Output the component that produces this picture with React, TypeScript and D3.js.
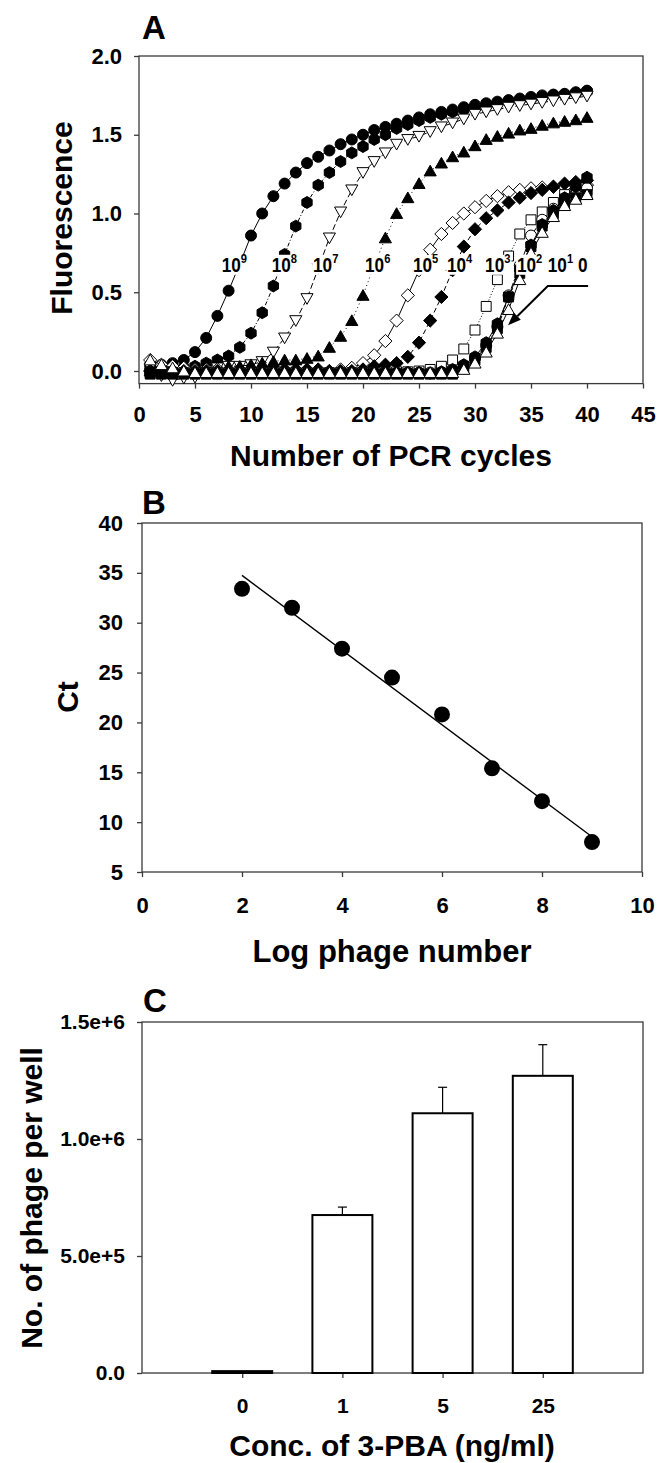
import React, { useEffect, useRef } from 'react';
import * as d3 from 'd3';

// ---- Panel A: real-time PCR curves ----
const cycles = [1, 2, 3, 4, 5, 6, 7, 8, 9, 10, 11, 12, 13, 14, 15, 16, 17, 18, 19, 20,
  21, 22, 23, 24, 25, 26, 27, 28, 29, 30, 31, 32, 33, 34, 35, 36, 37, 38, 39, 40];

const fl1e9 = [0.03, 0.04, 0.05, 0.07, 0.12, 0.21, 0.35, 0.51, 0.68, 0.86, 1.00, 1.11, 1.19, 1.26, 1.32, 1.36, 1.40, 1.44, 1.47, 1.50,
  1.53, 1.55, 1.57, 1.59, 1.61, 1.63, 1.645, 1.66, 1.675, 1.69, 1.70, 1.71, 1.72, 1.73, 1.74, 1.75, 1.755, 1.76, 1.77, 1.78];
const fl1e8 = [0.00, 0.01, 0.01, 0.02, 0.03, 0.05, 0.07, 0.095, 0.15, 0.24, 0.37, 0.54, 0.74, 0.92, 1.07, 1.18, 1.26, 1.33, 1.385, 1.425,
  1.47, 1.50, 1.54, 1.565, 1.59, 1.61, 1.63, 1.645, 1.66, 1.675, 1.69, 1.70, 1.71, 1.72, 1.73, 1.74, 1.75, 1.755, 1.765, 1.775];
const fl1e7 = [0.02, -0.03, -0.06, -0.045, -0.04, 0.00, 0.02, 0.03, 0.03, 0.04, 0.06, 0.12, 0.21, 0.32, 0.46, 0.65, 0.845, 1.01, 1.15, 1.26,
  1.33, 1.385, 1.44, 1.47, 1.49, 1.52, 1.55, 1.575, 1.60, 1.63, 1.645, 1.66, 1.675, 1.685, 1.695, 1.705, 1.715, 1.725, 1.735, 1.745];
const fl1e6 = [0.00, 0.00, 0.00, 0.01, 0.01, 0.02, 0.02, 0.03, 0.03, 0.04, 0.05, 0.06, 0.07, 0.07, 0.08, 0.095, 0.15, 0.22, 0.32, 0.48,
  0.67, 0.845, 1.00, 1.10, 1.19, 1.27, 1.32, 1.36, 1.39, 1.43, 1.47, 1.49, 1.51, 1.53, 1.54, 1.56, 1.575, 1.585, 1.595, 1.61];
const fl1e5 = [0.07, 0.04, 0.03, 0.02, 0.01, 0.01, 0.01, 0.00, 0.00, 0.00, 0.00, 0.00, 0.00, 0.00, 0.00, 0.00, 0.00, 0.01, 0.02, 0.05,
  0.10, 0.19, 0.32, 0.48, 0.64, 0.77, 0.87, 0.94, 1.00, 1.04, 1.08, 1.11, 1.135, 1.15, 1.16, 1.165, 1.17, 1.17, 1.175, 1.18];
const fl1e4 = [0.00, 0.00, 0.00, 0.00, 0.00, 0.00, 0.00, 0.00, 0.01, 0.01, 0.01, 0.01, 0.01, 0.01, 0.01, 0.01, 0.00, 0.00, 0.00, 0.01,
  0.03, 0.04, 0.05, 0.09, 0.18, 0.32, 0.47, 0.64, 0.79, 0.90, 0.97, 1.02, 1.07, 1.10, 1.13, 1.15, 1.17, 1.19, 1.20, 1.21];
const fl1e3 = [-0.01, -0.01, -0.01, -0.01, -0.01, -0.01, -0.01, -0.01, -0.01, -0.01, -0.01, -0.01, -0.01, -0.01, -0.01, -0.01, -0.01, -0.01, -0.01, -0.01,
  -0.01, -0.01, -0.005, -0.005, 0.00, 0.01, 0.03, 0.07, 0.14, 0.26, 0.41, 0.58, 0.73, 0.87, 0.96, 1.01, 1.07, 1.12, 1.14, 1.15];
const fl1e2 = [-0.01, -0.01, -0.01, -0.01, -0.01, -0.01, -0.01, -0.01, -0.01, -0.01, -0.01, -0.01, -0.01, -0.01, -0.01, -0.01, -0.01, -0.01, -0.01, -0.01,
  -0.01, -0.01, -0.01, -0.01, -0.01, -0.01, -0.01, 0.00, 0.03, 0.08, 0.16, 0.28, 0.48, 0.67, 0.86, 0.96, 1.03, 1.08, 1.12, 1.16];
const fl1e1a = [0.00, 0.00, 0.00, -0.01, -0.01, -0.01, -0.01, -0.01, -0.01, -0.01, -0.01, -0.01, -0.01, -0.01, -0.01, -0.01, -0.01, -0.01, -0.01, -0.01,
  -0.01, -0.01, -0.01, -0.01, -0.01, -0.015, -0.005, 0.01, 0.04, 0.09, 0.18, 0.30, 0.47, 0.65, 0.80, 0.93, 1.02, 1.10, 1.17, 1.23];
const fl1e1b = [-0.02, -0.02, -0.02, -0.02, -0.02, -0.02, -0.02, -0.02, -0.02, -0.02, -0.02, -0.02, -0.02, -0.02, -0.02, -0.02, -0.02, -0.02, -0.02, -0.02,
  -0.02, -0.02, -0.02, -0.02, -0.02, -0.02, -0.02, -0.02, 0.02, 0.07, 0.15, 0.27, 0.47, 0.62, 0.79, 0.92, 1.00, 1.06, 1.10, 1.12];
const fl0 = [0.07, 0.04, 0.02, 0.00, -0.01, -0.01, -0.01, -0.01, -0.01, -0.01, -0.01, -0.01, -0.01, -0.01, -0.01, -0.01, -0.01, -0.01, -0.01, -0.01,
  -0.01, -0.01, -0.01, -0.01, -0.01, -0.01, -0.01, -0.01, 0.01, 0.05, 0.12, 0.24, 0.39, 0.58, 0.75, 0.88, 0.98, 1.05, 1.09, 1.12];

const seriesA = [
  { name: '1e9', values: fl1e9, symbol: 'circle', filled: true, dash: null },
  { name: '1e8', values: fl1e8, symbol: 'hexagon', filled: true, dash: '4,2,1,2' },
  { name: '1e7', values: fl1e7, symbol: 'triDown', filled: false, dash: '6,3' },
  { name: '1e6', values: fl1e6, symbol: 'triUp', filled: true, dash: '1,3' },
  { name: '1e5', values: fl1e5, symbol: 'diamond', filled: false, dash: null },
  { name: '1e4', values: fl1e4, symbol: 'diamond', filled: true, dash: '5,3' },
  { name: '1e3', values: fl1e3, symbol: 'square', filled: false, dash: '1,2' },
  { name: '1e2', values: fl1e2, symbol: 'circle', filled: false, dash: '6,2,2,2' },
  { name: '1e1a', values: fl1e1a, symbol: 'hexagon', filled: true, dash: null },
  { name: '1e1b', values: fl1e1b, symbol: 'square', filled: true, dash: '3,3' },
  { name: '0', values: fl0, symbol: 'triUp', filled: false, dash: null },
];

// labels on the curves (left x in cycles, baseline in fluorescence)
const labelsA = [
  { base: '10', sup: '9', x: 7.38 }, { base: '10', sup: '8', x: 11.85 }, { base: '10', sup: '7', x: 15.54 },
  { base: '10', sup: '6', x: 20.18 }, { base: '10', sup: '5', x: 24.46 }, { base: '10', sup: '4', x: 27.5 },
  { base: '10', sup: '3', x: 30.9 }, { base: '10', sup: '2', x: 33.75 }, { base: '10', sup: '1', x: 36.5 },
  { base: '0', sup: '', x: 39.2 },
];
const labelY = 0.63;
const arrowA = [[40.1, 0.54], [36.5, 0.54], [32.95, 0.29]];

// ---- Panel B: standard curve ----
const logPhage = [2, 3, 4, 5, 6, 7, 8, 9];
const ctValues = [33.4, 31.5, 27.4, 24.5, 20.8, 15.4, 12.1, 8.0];

// ---- Panel C: bars ----
const concLabels = ['0', '1', '5', '25'];
const phageMean = [8000, 675000, 1110000, 1270000];
const phageErr = [0, 34000, 111000, 133000];

const FONT = 'Liberation Sans, Arial, Helvetica, sans-serif';

function symbolPath(type, r) {
  if (type === 'circle') {
    return `M${r},0A${r},${r} 0 1,1 ${-r},0A${r},${r} 0 1,1 ${r},0Z`;
  }
  if (type === 'hexagon') {
    const h = r * 1.08;
    const pts = d3.range(6).map(k => {
      const a = Math.PI / 6 + k * Math.PI / 3;
      return [h * Math.cos(a), h * Math.sin(a)];
    });
    return 'M' + pts.map(p => p.join(',')).join('L') + 'Z';
  }
  if (type === 'triUp') {
    const h = r * 1.05;
    return `M0,${-h}L${r * 1.1},${h * 0.85}L${-r * 1.1},${h * 0.85}Z`;
  }
  if (type === 'triDown') {
    const h = r * 1.05;
    return `M0,${h}L${r * 1.1},${-h * 0.85}L${-r * 1.1},${-h * 0.85}Z`;
  }
  if (type === 'diamond') {
    const d = r * 1.2;
    return `M0,${-d}L${d},0L0,${d}L${-d},0Z`;
  }
  const s = r * 0.9;
  return `M${-s},${-s}H${s}V${s}H${-s}Z`;
}

function drawFrame(g, x0, x1, y0, y1) {
  g.append('rect')
    .attr('x', x0).attr('y', y0)
    .attr('width', x1 - x0).attr('height', y1 - y0)
    .attr('fill', 'none')
    .attr('stroke', '#3a3a3a')
    .attr('stroke-width', 1.3);
}

function styleAxis(ax, size) {
  ax.attr('font-size', size).attr('font-family', FONT);
  ax.select('.domain').remove();
  ax.selectAll('line').attr('stroke', '#3a3a3a').attr('stroke-width', 1.3);
  ax.selectAll('text')
    .style('font-family', FONT)
    .style('font-weight', 'bold')
    .style('font-size', size + 'px')
    .attr('fill', '#000');
}

const App = () => {
  const svgRef = useRef();

  useEffect(() => {
    const svg = d3.select(svgRef.current);
    svg.selectAll('*').remove();

    const title = (txt, x, y, size, rotate) => {
      const t = svg.append('text')
        .attr('font-family', FONT)
        .attr('font-weight', 'bold')
        .attr('font-size', size)
        .attr('text-anchor', rotate ? 'middle' : 'start')
        .text(txt);
      if (rotate) t.attr('transform', `translate(${x},${y}) rotate(-90)`);
      else t.attr('x', x).attr('y', y);
      return t;
    };

    // ================= Panel A =================
    const xA = d3.scaleLinear().domain([0, 45]).range([139, 643]);
    const yA = d3.scaleLinear().domain([-0.08, 2.0]).range([383.6, 56]);
    const gA = svg.append('g');

    const axAx = gA.append('g').attr('transform', `translate(0,${yA.range()[0]})`)
      .call(d3.axisBottom(xA).tickValues(d3.range(0, 46, 5)).tickSize(5).tickPadding(18));
    styleAxis(axAx, 22);
    const axAy = gA.append('g').attr('transform', `translate(${xA.range()[0]},0)`)
      .call(d3.axisLeft(yA).tickValues([0, 0.5, 1, 1.5, 2]).tickSize(5).tickPadding(12).tickFormat(d3.format('.1f')));
    styleAxis(axAy, 22);
    drawFrame(gA, 139, 643, 56, yA.range()[0]);

    seriesA.forEach(s => {
      const pts = cycles.map((c, i) => [xA(c), yA(s.values[i])]);
      gA.append('path')
        .attr('d', d3.line()(pts))
        .attr('fill', 'none')
        .attr('stroke', '#000')
        .attr('stroke-width', 1)
        .attr('stroke-dasharray', s.dash);
      gA.append('g').selectAll('path')
        .data(pts)
        .enter()
        .append('path')
        .attr('transform', d => `translate(${d[0]},${d[1]})`)
        .attr('d', symbolPath(s.symbol, 5.5))
        .attr('fill', s.filled ? '#000' : '#fff')
        .attr('stroke', '#000')
        .attr('stroke-width', 1);
    });

    // curve labels with white background
    labelsA.forEach(l => {
      const lg = gA.append('g').attr('transform', `translate(${xA(l.x)},${yA(labelY)}) scale(0.86,1)`);
      const bg = lg.append('rect').attr('fill', '#fff');
      const t = lg.append('text')
        .attr('font-family', FONT)
        .attr('font-weight', 'bold')
        .attr('font-size', 20);
      t.append('tspan').text(l.base);
      if (l.sup) t.append('tspan').attr('font-size', 13).attr('dy', -9).text(l.sup);
      const bb = t.node().getBBox();
      bg.attr('x', bb.x - 1).attr('y', -17).attr('width', bb.width + 2).attr('height', 20);
    });

    // arrow pointing to the "0" curve
    const ap = arrowA.map(p => [xA(p[0]), yA(p[1])]);
    const last = ap[ap.length - 1];
    const prev = ap[ap.length - 2];
    const ang = Math.atan2(last[1] - prev[1], last[0] - prev[0]);
    const headLen = 13;
    const base = [last[0] - headLen * Math.cos(ang), last[1] - headLen * Math.sin(ang)];
    gA.append('path')
      .attr('d', d3.line()([...ap.slice(0, -1), base]))
      .attr('fill', 'none').attr('stroke', '#000').attr('stroke-width', 2);
    const w = 5;
    gA.append('path')
      .attr('d', `M${last[0]},${last[1]}L${base[0] + w * Math.sin(ang)},${base[1] - w * Math.cos(ang)}L${base[0] - w * Math.sin(ang)},${base[1] + w * Math.cos(ang)}Z`)
      .attr('fill', '#000');

    title('A', 142, 39, 33);
    title('Fluorescence', 72, 218, 30, true);
    title('Number of PCR cycles', 391, 466, 30).attr('text-anchor', 'middle');

    // ================= Panel B =================
    const xB = d3.scaleLinear().domain([0, 10]).range([142, 642]);
    const yB = d3.scaleLinear().domain([5, 40]).range([872, 523]);
    const gB = svg.append('g');
    const axBx = gB.append('g').attr('transform', `translate(0,872)`)
      .call(d3.axisBottom(xB).tickValues([0, 2, 4, 6, 8, 10]).tickSize(5).tickPadding(20));
    styleAxis(axBx, 22);
    const axBy = gB.append('g').attr('transform', `translate(142,0)`)
      .call(d3.axisLeft(yB).tickValues(d3.range(5, 41, 5)).tickSize(5).tickPadding(14));
    styleAxis(axBy, 22);
    drawFrame(gB, 142, 642, 523, 872);

    // least squares fit of Ct vs log phage number
    const mx = d3.mean(logPhage);
    const my = d3.mean(ctValues);
    const sxy = d3.sum(logPhage, (x, i) => (x - mx) * (ctValues[i] - my));
    const sxx = d3.sum(logPhage, x => (x - mx) * (x - mx));
    const slope = sxy / sxx;
    const icpt = my - slope * mx;
    const xr = d3.extent(logPhage);
    gB.append('line')
      .attr('x1', xB(xr[0])).attr('y1', yB(icpt + slope * xr[0]))
      .attr('x2', xB(xr[1])).attr('y2', yB(icpt + slope * xr[1]))
      .attr('stroke', '#000').attr('stroke-width', 1.4);
    gB.selectAll('.pt')
      .data(logPhage)
      .enter()
      .append('circle')
      .attr('class', 'pt')
      .attr('cx', d => xB(d))
      .attr('cy', (d, i) => yB(ctValues[i]))
      .attr('r', 8)
      .attr('fill', '#000');

    title('B', 142, 514, 33);
    title('Ct', 78, 697, 30, true);
    title('Log phage number', 392, 962, 31).attr('text-anchor', 'middle');

    // ================= Panel C =================
    const xC = d3.scalePoint().domain(concLabels).range([142, 643]).padding(1);
    const yC = d3.scaleLinear().domain([0, 1.5e6]).range([1373, 1022]);
    const gC = svg.append('g');
    const axCx = gC.append('g').attr('transform', `translate(0,1373)`)
      .call(d3.axisBottom(xC).tickSize(5).tickPadding(20));
    styleAxis(axCx, 21);
    const axCy = gC.append('g').attr('transform', `translate(142,0)`)
      .call(d3.axisLeft(yC).tickValues([0, 5e5, 1e6, 1.5e6]).tickSize(5).tickPadding(12)
        .tickFormat(v => (v === 0 ? '0.0' : d3.format('.1e')(v))));
    styleAxis(axCy, 21);
    drawFrame(gC, 142, 643, 1022, 1373);

    const barW = 60;
    const bars = gC.append('g');
    concLabels.forEach((c, i) => {
      const cx = xC(c);
      bars.append('rect')
        .attr('x', cx - barW / 2)
        .attr('y', yC(phageMean[i]))
        .attr('width', barW)
        .attr('height', yC(0) - yC(phageMean[i]))
        .attr('fill', '#fff')
        .attr('stroke', '#000')
        .attr('stroke-width', 2);
      if (phageErr[i] > 0) {
        const top = yC(phageMean[i] + phageErr[i]);
        bars.append('line')
          .attr('x1', cx).attr('x2', cx)
          .attr('y1', yC(phageMean[i])).attr('y2', top)
          .attr('stroke', '#000').attr('stroke-width', 1.2);
        bars.append('line')
          .attr('x1', cx - 4.5).attr('x2', cx + 4.5)
          .attr('y1', top).attr('y2', top)
          .attr('stroke', '#000').attr('stroke-width', 1.2);
      }
    });

    title('C', 143, 1012, 33);
    title('No. of phage per well', 42, 1198, 30, true);
    title('Conc. of 3-PBA (ng/ml)', 392, 1456, 30).attr('text-anchor', 'middle');
  }, []);

  return (
    <div>
      <style>{'body{margin:0;background:#fff}'}</style>
      <svg ref={svgRef} width={659} height={1463} style={{ display: 'block' }}></svg>
    </div>
  );
};

export default App;
